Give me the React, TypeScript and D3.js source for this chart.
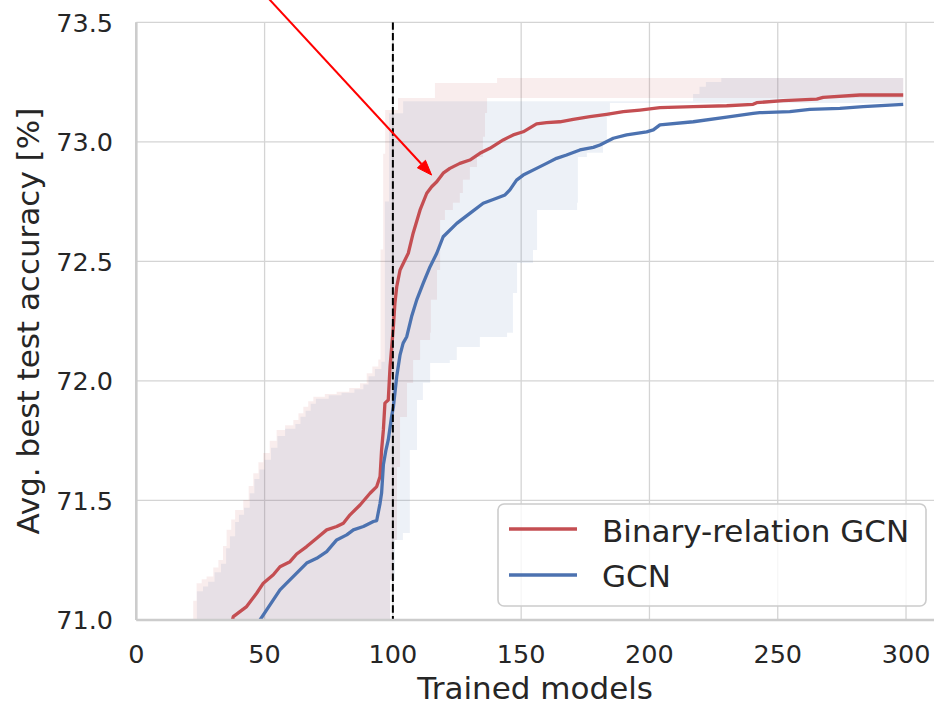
import React from 'react';
import * as d3 from 'd3';

// ---- data ----
const xTicks = [0, 50, 100, 150, 200, 250, 300];
const yTicks = [71.0, 71.5, 72.0, 72.5, 73.0, 73.5];
const xLimit: [number, number] = [0, 310.9];
const yLimit: [number, number] = [71.0, 73.5];
const markerX = 100;
const seriesNames = ['Binary-relation GCN', 'GCN'];
const seriesColors = ['#C44E52', '#4C72B0'];
const bandEnd = 298.9;

const redMean: [number, number][] = [
  [36.8, 70.97], [37.8, 71.014], [40.4, 71.035], [43.0, 71.056], [46.9, 71.112], [49.5, 71.154],
  [53.4, 71.189], [56.0, 71.223], [59.9, 71.244], [62.5, 71.276], [66.4, 71.307], [70.3, 71.342],
  [74.2, 71.377], [78.1, 71.391], [80.7, 71.405], [83.3, 71.44], [87.2, 71.481], [91.1, 71.53],
  [93.7, 71.558], [95.0, 71.6], [95.6, 71.711], [96.3, 71.795], [96.9, 71.907], [98.2, 71.92],
  [98.9, 72.06], [100.2, 72.227], [100.8, 72.326], [101.5, 72.394], [102.8, 72.464], [104.7, 72.506],
  [106.0, 72.534], [107.9, 72.618], [110.6, 72.715], [113.2, 72.785], [115.1, 72.812], [117.1, 72.833],
  [119.6, 72.869], [122.2, 72.889], [126.1, 72.91], [130.0, 72.924], [133.9, 72.952], [137.8, 72.973],
  [143.0, 73.008], [146.9, 73.029], [150.8, 73.042], [156.0, 73.075], [159.9, 73.08], [165.1, 73.084],
  [170.3, 73.094], [176.8, 73.105], [183.3, 73.115], [189.8, 73.126], [196.3, 73.133], [204.1, 73.143],
  [217.1, 73.147], [230.1, 73.151], [240.4, 73.157], [241.8, 73.164], [252.1, 73.172], [265.2, 73.179],
  [267.7, 73.186], [282.0, 73.196], [298.9, 73.196],
];

const blueMean: [number, number][] = [
  [47.3, 70.97], [48.2, 71.0], [50.8, 71.042], [53.4, 71.084], [56.0, 71.126], [58.6, 71.154],
  [62.5, 71.196], [66.4, 71.238], [70.3, 71.258], [74.2, 71.286], [78.1, 71.335], [82.0, 71.356],
  [84.6, 71.377], [88.5, 71.391], [92.4, 71.412], [93.7, 71.416], [95.0, 71.488], [95.6, 71.531],
  [96.3, 71.649], [97.3, 71.711], [98.2, 71.753], [99.5, 71.851], [100.2, 71.892], [101.5, 72.018],
  [102.8, 72.109], [104.0, 72.158], [105.4, 72.185], [107.3, 72.269], [109.3, 72.339], [111.8, 72.408],
  [114.5, 72.478], [117.1, 72.534], [119.6, 72.603], [124.9, 72.659], [130.0, 72.701], [135.2, 72.743],
  [140.4, 72.764], [143.7, 72.778], [145.6, 72.799], [148.2, 72.84], [150.8, 72.861], [156.0, 72.889],
  [159.9, 72.91], [163.8, 72.931], [167.7, 72.945], [172.9, 72.966], [178.1, 72.977], [180.7, 72.987],
  [185.9, 73.015], [191.1, 73.029], [198.9, 73.042], [201.5, 73.05], [204.1, 73.071], [217.1, 73.084],
  [230.1, 73.103], [240.4, 73.119], [243.0, 73.122], [254.7, 73.126], [262.5, 73.136], [274.2, 73.14],
  [283.3, 73.147], [298.9, 73.157],
];

// band edges: step breakpoints [x, y] (value holds until next breakpoint)
const redUpper: [number, number][] = [
  [22.2, 71.08], [23.5, 71.154], [25.5, 71.17], [27.4, 71.182], [30.0, 71.22], [32.0, 71.251],
  [33.8, 71.31], [35.2, 71.377], [37.0, 71.42], [38.5, 71.46], [41.7, 71.502], [43.8, 71.56],
  [45.6, 71.614], [47.6, 71.66], [49.5, 71.698], [52.0, 71.75], [54.7, 71.795], [58.0, 71.815],
  [61.2, 71.837], [63.2, 71.865], [65.1, 71.892], [67.0, 71.915], [69.0, 71.934], [73.5, 71.945],
  [78.1, 71.955], [83.0, 71.97], [87.2, 71.99], [89.8, 72.032], [92.0, 72.06], [94.3, 72.09],
  [95.2, 72.55], [96.2, 72.95], [97.0, 73.133], [102.0, 73.183], [116.4, 73.246], [140.6, 73.267],
];
const redLower: [number, number][] = [
  [22.2, 70.5], [96.7, 71.0], [98.9, 71.168], [100.0, 71.335], [101.6, 71.64], [102.8, 71.849],
  [105.5, 71.991], [107.9, 72.088], [110.6, 72.171], [114.5, 72.201], [114.8, 72.339], [117.2, 72.464],
  [118.4, 72.673], [120.3, 72.715], [123.4, 72.745], [126.1, 72.786], [127.3, 72.841], [130.0, 72.895],
  [132.8, 72.937], [135.1, 73.021], [135.9, 73.121], [136.7, 73.183],
];
const blueUpper: [number, number][] = [
  [23.6, 71.12], [26.0, 71.14], [28.0, 71.16], [30.5, 71.2], [33.0, 71.235], [35.0, 71.3],
  [36.5, 71.35], [38.5, 71.41], [40.0, 71.44], [42.0, 71.47], [44.2, 71.53], [46.0, 71.59],
  [48.0, 71.63], [50.0, 71.67], [52.5, 71.72], [55.0, 71.77], [58.0, 71.8], [62.0, 71.82],
  [64.0, 71.85], [66.0, 71.875], [68.0, 71.905], [70.0, 71.925], [75.0, 71.94], [80.0, 71.95],
  [85.0, 71.965], [88.5, 71.985], [90.5, 72.02], [93.0, 72.05], [95.5, 72.08], [96.9, 72.75],
  [98.5, 73.12], [104.0, 73.17], [217.0, 73.2], [219.5, 73.23], [222.0, 73.25], [228.0, 73.267],
];
const blueLower: [number, number][] = [
  [23.6, 70.5], [96.9, 71.0], [98.9, 71.168], [100.8, 71.335], [103.9, 71.364], [106.6, 71.711],
  [109.4, 71.92], [111.7, 71.992], [114.5, 72.075], [122.2, 72.088], [124.9, 72.142], [133.9, 72.184],
  [144.5, 72.201], [146.8, 72.368], [148.4, 72.493], [154.6, 72.548], [156.2, 72.715], [171.8, 72.745],
  [172.1, 72.937], [175.6, 72.954], [181.9, 72.995], [183.4, 73.104], [184.6, 73.162],
];

// annotation arrow (data coordinates)
const arrowFrom: [number, number] = [48.5, 73.635];
const arrowTo: [number, number] = [115.1, 72.861];

// ---- layout ----
const W = 934;
const H = 706;
const left = 136.3;
const right = 934;
const top = 22.3;
const bottom = 620;
const FONT = '"DejaVu Sans", Verdana, sans-serif';
const TEXT = '#262626';

function stepAt(edge: [number, number][], x: number) {
  let v = edge[0][1];
  for (const [ex, ey] of edge) {
    if (ex <= x) v = ey;
    else break;
  }
  return v;
}

function bandRows(upper: [number, number][], lower: [number, number][], end: number) {
  const start = Math.min(upper[0][0], lower[0][0]);
  const xs = Array.from(new Set([...upper.map((d) => d[0]), ...lower.map((d) => d[0]), end]))
    .filter((x) => x >= start && x <= end)
    .sort((a, b) => a - b);
  return xs.map((x) => ({ x, y0: stepAt(lower, x), y1: stepAt(upper, x) }));
}

export default function App() {
  const x = d3.scaleLinear().domain(xLimit).range([left, right]);
  const y = d3.scaleLinear().domain(yLimit).range([bottom, top]);

  const area = d3
    .area<{ x: number; y0: number; y1: number }>()
    .x((d) => x(d.x))
    .y0((d) => y(d.y0))
    .y1((d) => y(d.y1))
    .curve(d3.curveStepAfter);
  const line = d3
    .line<[number, number]>()
    .x((d) => x(d[0]))
    .y((d) => y(d[1]));

  const redBand = area(bandRows(redUpper, redLower, bandEnd)) || '';
  const blueBand = area(bandRows(blueUpper, blueLower, bandEnd)) || '';

  // arrow geometry
  const ax0 = x(arrowFrom[0]);
  const ay0 = y(arrowFrom[1]);
  const ax1 = x(arrowTo[0]);
  const ay1 = y(arrowTo[1]);
  const ang = Math.atan2(ay1 - ay0, ax1 - ax0);
  const headL = 15;
  const headW = 5.5;
  const bx = ax1 - headL * Math.cos(ang);
  const by = ay1 - headL * Math.sin(ang);
  const px = -Math.sin(ang);
  const py = Math.cos(ang);
  const head = `M${ax1},${ay1}L${bx + px * headW},${by + py * headW}L${bx - px * headW},${by - py * headW}Z`;

  // legend box
  const lg = { x: 498, y: 504, w: 428, h: 102 };

  return (
    <svg
      width={W}
      height={H}
      style={{ position: 'absolute', left: 0, top: 0, background: '#fff' }}
      fontFamily={FONT}
    >
      <defs>
        <clipPath id="plotClip">
          <rect x={left} y={top} width={right - left} height={bottom - top} />
        </clipPath>
      </defs>
      <rect x={0} y={0} width={W} height={H} fill="#fff" />

      {/* grid */}
      <g stroke="#d4d4d4" strokeWidth={1.3}>
        {xTicks.map((t) => (
          <line key={'gx' + t} x1={x(t)} x2={x(t)} y1={top} y2={bottom} />
        ))}
        {yTicks.map((t) => (
          <line key={'gy' + t} x1={left} x2={right} y1={y(t)} y2={y(t)} />
        ))}
      </g>

      <g clipPath="url(#plotClip)">
        <path d={redBand} fill={seriesColors[0]} fillOpacity={0.1} stroke="none" />
        <path d={blueBand} fill={seriesColors[1]} fillOpacity={0.1} stroke="none" />
        <path d={line(redMean) || ''} fill="none" stroke={seriesColors[0]} strokeWidth={3.3} strokeLinejoin="round" />
        <path d={line(blueMean) || ''} fill="none" stroke={seriesColors[1]} strokeWidth={3.3} strokeLinejoin="round" />
        <line
          x1={x(markerX)}
          x2={x(markerX)}
          y1={top}
          y2={bottom}
          stroke="#000"
          strokeWidth={2}
          strokeDasharray="7.4,3.2"
        />
      </g>

      {/* spines */}
      <line x1={left} x2={left} y1={top} y2={bottom} stroke="#cccccc" strokeWidth={2.6} />
      <line x1={left} x2={right} y1={bottom} y2={bottom} stroke="#cccccc" strokeWidth={2.6} />

      {/* tick labels */}
      <g fill={TEXT} fontSize={25.5}>
        {xTicks.map((t) => (
          <text key={'tx' + t} x={x(t)} y={663} textAnchor="middle">
            {t}
          </text>
        ))}
        {yTicks.map((t) => (
          <text key={'ty' + t} x={113} y={y(t) + 9.3} textAnchor="end">
            {d3.format('.1f')(t)}
          </text>
        ))}
      </g>

      {/* axis labels */}
      <text x={(left + right) / 2} y={699} textAnchor="middle" fontSize={31} fill={TEXT}>
        Trained models
      </text>
      <text
        transform={`translate(39,${(top + bottom) / 2}) rotate(-90)`}
        textAnchor="middle"
        fontSize={31}
        fill={TEXT}
      >
        Avg. best test accuracy [%]
      </text>

      {/* legend */}
      <rect
        x={lg.x}
        y={lg.y}
        width={lg.w}
        height={lg.h}
        rx={6}
        fill="#fff"
        fillOpacity={0.8}
        stroke="#cccccc"
        strokeWidth={1.6}
      />
      {seriesNames.map((name, i) => (
        <g key={name}>
          <line
            x1={509}
            x2={577}
            y1={529 + i * 46}
            y2={529 + i * 46}
            stroke={seriesColors[i]}
            strokeWidth={3.5}
          />
          <text x={602} y={541.5 + i * 45.5} fontSize={31} fill={TEXT}>
            {name}
          </text>
        </g>
      ))}

      {/* annotation arrow */}
      <line x1={ax0} y1={ay0} x2={bx} y2={by} stroke="#ff0000" strokeWidth={2} />
      <path d={head} fill="#ff0000" stroke="#ff0000" strokeWidth={1} />
    </svg>
  );
}
